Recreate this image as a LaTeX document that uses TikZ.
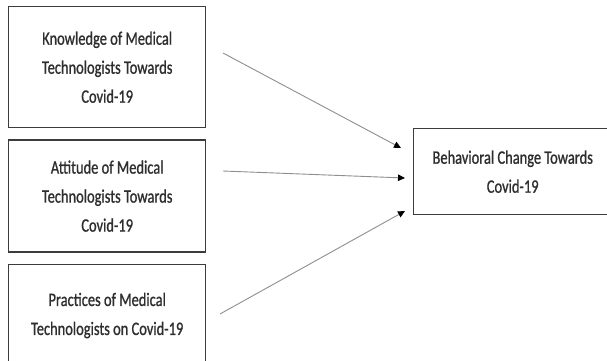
\documentclass[tikz,border=0pt]{standalone}
\usepackage{fontspec}
\setmainfont{Carlito}[FakeStretch=0.76,FakeBold=0.9]
\usetikzlibrary{arrows.meta,positioning}
\definecolor{Frame}{HTML}{3C3C3C}
\definecolor{Wire}{HTML}{8E8E8E}
\definecolor{Ink}{HTML}{2E2E2E}
\begin{document}
\begin{tikzpicture}[x=1pt, y=-1pt, font=\fontsize{19}{29}\selectfont, >={Triangle[length=7pt,width=6.5pt,color=black]}]
\tikzset{box/.style={draw=Frame, line width=1.4pt, align=center, fill=white, text=Ink, minimum width=197pt, inner sep=0pt}, wire/.style={->, draw=Wire, line width=0.9pt}}
\useasboundingbox (0,0) rectangle (607,360);
\node[box, minimum height=121pt, anchor=north west] (know) at (8,6) {Knowledge of Medical\\Technologists Towards\\Covid-19};
\node[box, minimum height=112pt, below=11pt of know] (att) {Attitude of Medical\\Technologists Towards\\Covid-19};
\node[box, minimum height=102pt, below=11pt of att] (prac) {Practices of Medical\\Technologists on Covid-19};
\node[box, minimum width=198pt, minimum height=86pt, anchor=north west] (change) at (413,128) {Behavioral Change Towards\\Covid-19};
\coordinate (k0) at (223,53); \coordinate (k1) at (401,148);
\coordinate (a0) at (223,171); \coordinate (a1) at (405,178);
\coordinate (p0) at (220,314); \coordinate (p1) at (405,211);
\draw[wire] (k0)--(k1); \draw[wire] (a0)--(a1); \draw[wire] (p0)--(p1);
\end{tikzpicture}
\end{document}
